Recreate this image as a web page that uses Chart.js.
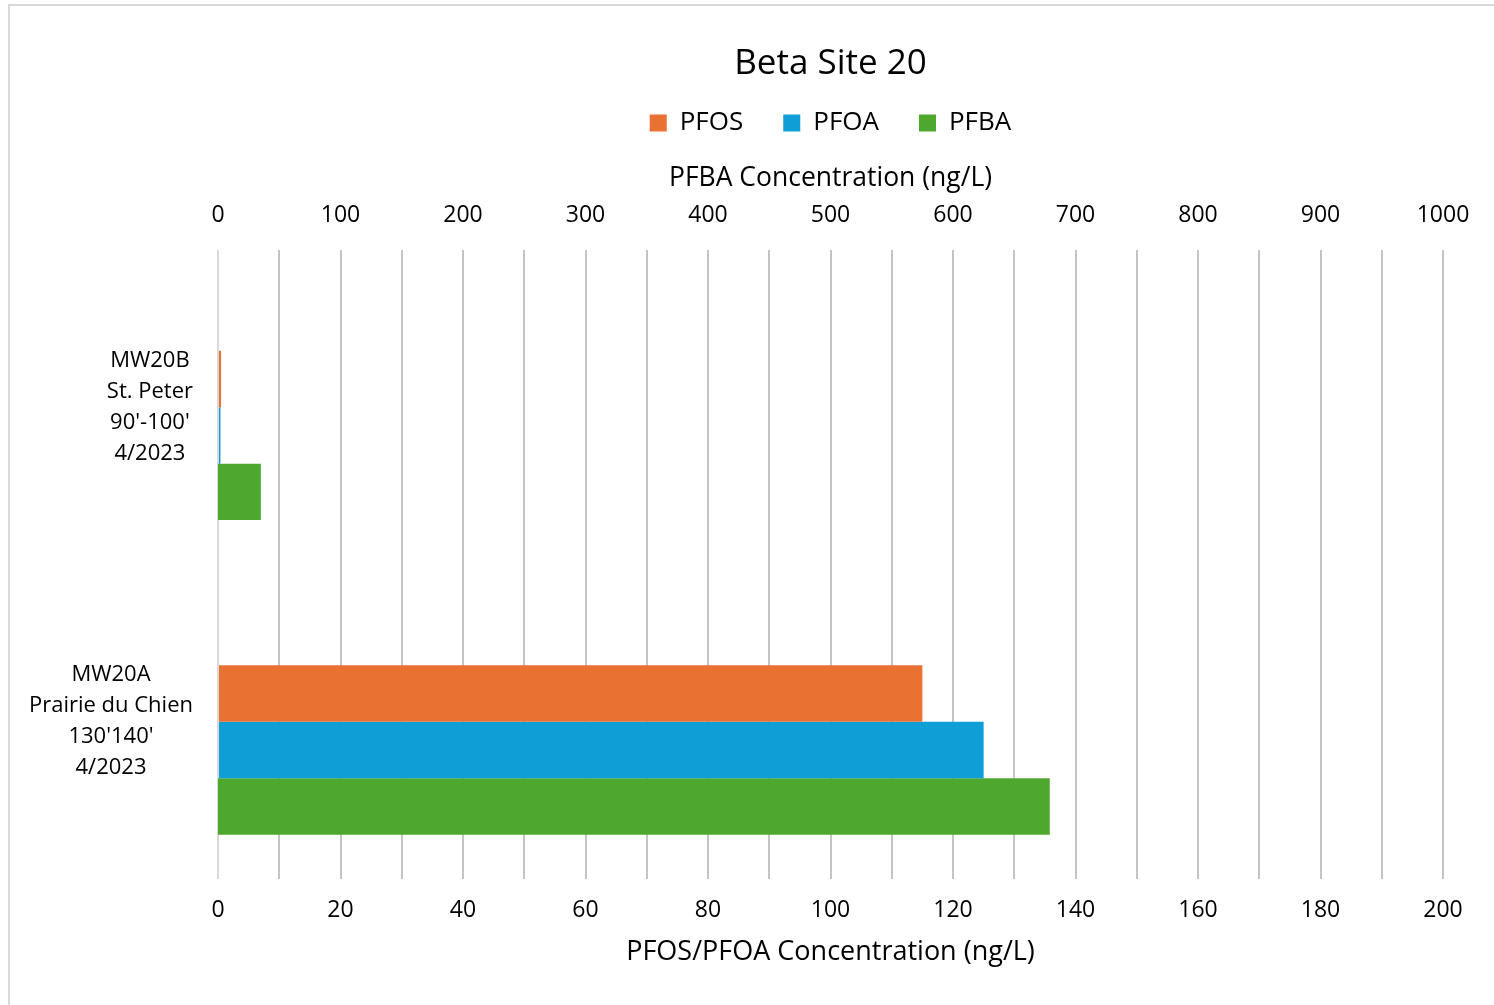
<!DOCTYPE html>
<html>
<head>
<meta charset="utf-8">
<script src="https://cdn.jsdelivr.net/npm/chart.js@4"></script>
<style>
  html, body { margin: 0; padding: 0; background: #fff; }
  #wrap { position: relative; width: 1494px; height: 1005px; overflow: hidden; }
  #frame { position: absolute; left: 8px; top: 4px; width: 1520px; height: 1030px; border: 2px solid #d9d9d9; box-sizing: border-box; }
  canvas { position: absolute; left: 0; top: 0; }
</style>
</head>
<body>
<div id="wrap">
  <div id="frame"></div>
  <canvas id="chart" width="1494" height="1005"></canvas>
</div>
<script>
// DATA
const categories = [
  ["MW20B", "St. Peter", "90'-100'", "4/2023"],
  ["MW20A", "Prairie du Chien", "130'140'", "4/2023"]
];
const pfos = [0.5, 115];
const pfoa = [0.4, 125];
const pfba = [35, 679];

// axis ranges
const pfosPfoaMax = 200;
const pfosPfoaLabelStep = 20;
const pfosPfoaGridStep = 10;
const pfbaMax = 1000;
const pfbaStep = 100;

const FONT = '"Open Sans", sans-serif';

// category labels: each block right aligned, lines centered (Excel style)
const yLabels = {
  id: "yLabels",
  afterDraw(chart) {
    const ctx = chart.ctx;
    const y = chart.scales.y;
    ctx.save();
    ctx.font = "22px " + FONT;
    ctx.fillStyle = "#000";
    ctx.textAlign = "center";
    ctx.textBaseline = "middle";
    categories.forEach((lines, i) => {
      const w = Math.max(...lines.map(l => ctx.measureText(l).width));
      const cx = chart.chartArea.left - 25 - w / 2;
      const cy = y.getPixelForValue(i);
      lines.forEach((l, k) => {
        ctx.fillText(l, cx, cy + (k - (lines.length - 1) / 2) * 31);
      });
    });
    ctx.restore();
  }
};

new Chart(document.getElementById("chart"), {
  type: "bar",
  data: {
    labels: categories,
    datasets: [
      // empty slot above the bars, like the blank series in the source sheet
      { label: "", data: [null, null], xAxisID: "x" },
      { label: "PFOS", data: pfos, backgroundColor: "#E97132", xAxisID: "x" },
      { label: "PFOA", data: pfoa, backgroundColor: "#0F9ED5", xAxisID: "x" },
      { label: "PFBA", data: pfba, backgroundColor: "#4EA72E", xAxisID: "x2" }
    ]
  },
  options: {
    indexAxis: "y",
    responsive: false,
    animation: false,
    barPercentage: 1,
    categoryPercentage: 0.718,
    layout: { padding: { left: 218, right: 51, top: 0, bottom: 36 } },
    plugins: {
      title: {
        display: true,
        text: "Beta Site 20",
        color: "#000",
        font: { family: FONT, size: 35, weight: "normal" },
        padding: { top: 43, bottom: -15 }
      },
      legend: {
        position: "top",
        labels: {
          color: "#000",
          font: { family: FONT, size: 26 },
          boxWidth: 17,
          boxHeight: 17,
          padding: 40,
          filter: item => item.text !== ""
        }
      },
      tooltip: { enabled: false }
    },
    scales: {
      y: {
        grid: { display: false },
        border: { display: false },
        ticks: { display: false },
        afterFit: s => { s.width = 0; }
      },
      x: {
        position: "bottom",
        min: 0,
        max: pfosPfoaMax,
        ticks: {
          stepSize: pfosPfoaGridStep,
          autoSkip: false,
          maxRotation: 0,
          padding: 18,
          color: "#000",
          font: { family: FONT, size: 23 },
          callback: v => (v % pfosPfoaLabelStep === 0 ? v : "")
        },
        grid: {
          drawTicks: false,
          lineWidth: 2,
          color: c => (c.tick && c.tick.value === 0 ? "#d9d9d9" : "#c4c4c4")
        },
        border: { display: false },
        title: {
          display: true,
          text: "PFOS/PFOA Concentration (ng/L)",
          color: "#000",
          font: { family: FONT, size: 27 },
          padding: { top: -6, bottom: 0 }
        }
      },
      x2: {
        position: "top",
        min: 0,
        max: pfbaMax,
        ticks: {
          stepSize: pfbaStep,
          maxRotation: 0,
          padding: 13,
          color: "#000",
          font: { family: FONT, size: 23 },
          callback: v => v
        },
        grid: { display: false },
        border: { display: false },
        title: {
          display: true,
          text: "PFBA Concentration (ng/L)",
          color: "#000",
          font: { family: FONT, size: 26.5 },
          padding: { top: 16.5, bottom: -6 }
        }
      }
    }
  },
  plugins: [yLabels]
});
</script>
</body>
</html>
